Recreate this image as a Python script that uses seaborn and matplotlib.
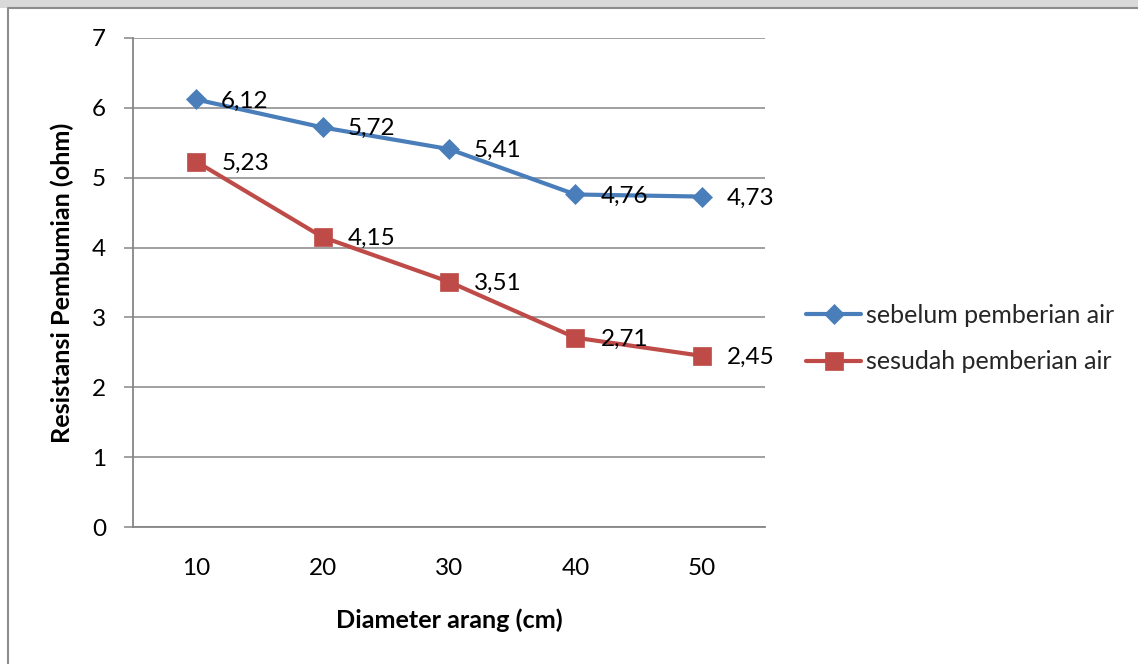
import matplotlib
matplotlib.use("Agg")
import matplotlib.pyplot as plt
import seaborn as sns
import pandas as pd
from matplotlib.lines import Line2D
from matplotlib.patches import Rectangle

diameter = [10, 20, 30, 40, 50]
sebelum = [6.12, 5.72, 5.41, 4.76, 4.73]
sesudah = [5.23, 4.15, 3.51, 2.71, 2.45]
series_names = ["sebelum pemberian air", "sesudah pemberian air"]
y_ticks = [0, 1, 2, 3, 4, 5, 6, 7]
x_label = "Diameter arang (cm)"
y_label = "Resistansi Pembumian (ohm)"

sns.set_theme(style="white")
plt.rcParams["font.family"] = ["Lato", "DejaVu Sans"]

W, H = 1138, 664
fig = plt.figure(figsize=(W / 100, H / 100), dpi=100)
ax = fig.add_axes([133 / W, 1 - 527 / H, (765 - 133) / W, (527 - 38) / H])

df1 = pd.DataFrame({"x": diameter, "y": sebelum})
df2 = pd.DataFrame({"x": diameter, "y": sesudah})
blue = "#4A7EBB"
red = "#BE4B48"

sns.lineplot(data=df1, x="x", y="y", ax=ax, color=blue, lw=3.0, marker="D",
             markersize=10, markeredgewidth=0.5, markeredgecolor=blue,
             label=series_names[0], zorder=3)
sns.lineplot(data=df2, x="x", y="y", ax=ax, color=red, lw=3.0, marker="s",
             markersize=12.5, markeredgewidth=0.5, markeredgecolor=red,
             label=series_names[1], zorder=3)

fs = 17.5
for xs, ys in [(diameter, sebelum), (diameter, sesudah)]:
    for xv, yv in zip(xs, ys):
        ax.annotate(f"{yv:.2f}".replace(".", ","), (xv, yv), xytext=(18, -1),
                    textcoords="offset points", ha="left", va="center",
                    fontsize=fs, color="black", zorder=4)

ax.set_xlim(5, 55)
ax.set_ylim(0, 7)
ax.set_xticks(diameter)
ax.set_xticklabels([str(d) for d in diameter])
ax.set_yticks(y_ticks)

grid_c = "#868686"
ax.grid(axis="y", color=grid_c, lw=1.1)
ax.grid(axis="x", visible=False)
for s in ["top", "right"]:
    ax.spines[s].set_visible(False)
for s in ["left", "bottom"]:
    ax.spines[s].set_color(grid_c)
    ax.spines[s].set_linewidth(1.3)
ax.set_axisbelow(True)

ax.tick_params(axis="y", which="major", length=6.5, width=1.1, color=grid_c,
               direction="out", pad=13, labelsize=fs, labelcolor="black", left=True)
ax.tick_params(axis="x", which="major", length=0, pad=22, labelsize=fs,
               labelcolor="black")

ax.set_xlabel(x_label, fontsize=18.2, fontweight="bold", color="black")
ax.set_ylabel(y_label, fontsize=18.2, fontweight="bold", color="black")
ax.xaxis.set_label_coords(0.5, (527 - 620) / 489)
ax.xaxis.label.set_va("center")
ax.yaxis.set_label_coords((62 - 133) / 632, 0.5)
ax.yaxis.label.set_va("center")

leg = ax.legend(loc="center left", bbox_to_anchor=(806 / W, 1 - 338.5 / H),
                bbox_transform=fig.transFigure, frameon=False, fontsize=18,
                handlelength=2.2, handletextpad=0.2, labelspacing=0.95,
                borderpad=0, borderaxespad=0)

# chart frame & top strip
fig.patches.append(Rectangle((0, 1 - 8 / H), 1, 8 / H, transform=fig.transFigure,
                             facecolor="#d9d9d9", edgecolor="none", zorder=0))
fig.lines.append(Line2D([8 / W, 8 / W, 1], [0, 1 - 8 / H, 1 - 8 / H],
                        transform=fig.transFigure, color="#8c8c8c", lw=1.5))

fig.savefig("out.png", dpi=100)
